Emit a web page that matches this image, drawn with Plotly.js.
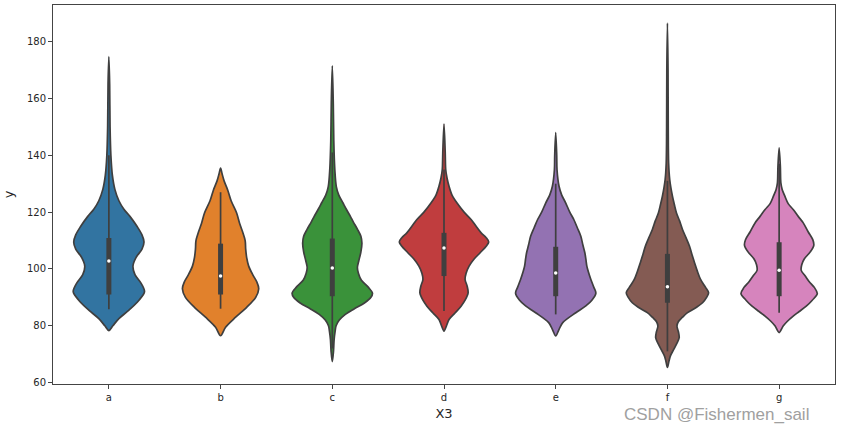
<!DOCTYPE html>
<html>
<head>
<meta charset="utf-8">
<script src="https://cdn.plot.ly/plotly-3.0.1.min.js"></script>
<style>html,body{margin:0;padding:0;background:#fff;}#chart{width:843px;height:431px;}</style>
</head>
<body>
<div id="chart"></div>
<script>
// ---- data ----
const categories = ['a', 'b', 'c', 'd', 'e', 'f', 'g'];

// density profiles (y level -> relative density, arbitrary units)
const yA = [78.3, 80, 82.5, 85.5, 89, 92, 95, 98, 101, 104, 107, 109.5, 112, 115, 118.5, 121, 124, 128, 133, 140, 150, 165, 174.7];
const dA = [0, 4, 10, 20, 30, 35.5, 32, 26, 24, 27, 33, 35, 33, 28, 21, 15, 10, 6, 3.5, 2, 1.2, 0.8, 0];

const yB = [76.5, 79.5, 83, 86.5, 90, 93, 95.5, 98, 101, 104, 107, 110, 113, 116, 119.7, 124, 127.9, 131, 133.5, 135.5];
const dB = [0, 5, 15, 26, 35, 38, 36, 32, 28, 26, 25, 24.5, 22, 19, 16, 10.5, 7, 3.5, 1.5, 0];

const yC = [67.4, 71, 75, 78, 80, 82, 84, 86, 88, 90, 91.5, 93.5, 96, 98.5, 100.5, 103, 106, 109, 111.5, 114, 116.5, 118.5, 121, 123.2, 126, 129, 135, 145, 158, 171.5];
const dC = [0, 1.2, 1.8, 2.8, 3.8, 7, 13, 22, 32, 38.5, 40, 36, 29, 26, 25, 26.5, 28.5, 29.5, 28.5, 25, 21, 18, 14, 10.7, 6.5, 4, 2.5, 1.5, 1, 0];

const yD = [78.1, 80, 82.2, 84.5, 86.9, 89, 91.6, 94, 96.3, 98.5, 101, 103.5, 105.7, 108, 109.5, 111, 112.7, 115, 117.4, 120, 123.2, 126, 129.1, 132, 135, 141, 151];
const dD = [0, 2.5, 5, 11, 17, 21, 24, 23, 21, 22, 25, 30, 36, 42, 44.5, 42, 37, 32, 27, 20, 13, 8, 5, 3, 1.7, 1.2, 0];

const yE = [76.4, 78.5, 81.1, 84.6, 87, 89, 91.5, 93.5, 96.3, 99, 101, 103.5, 105.7, 108.5, 111.5, 114.5, 117.4, 120, 123.2, 126, 129.1, 134.9, 140, 148];
const dE = [0, 3, 7, 20, 30, 36, 40, 38, 35, 32.5, 31, 30, 29, 27, 25, 21.5, 18, 14, 10, 6, 3.3, 1.3, 1, 0];

const yF = [65.3, 67.5, 69.4, 71.5, 73.5, 75.8, 77.8, 79.9, 81.5, 83, 84.6, 86.5, 88.1, 90, 91.6, 93.5, 96.3, 99, 102.2, 105, 108, 111, 113.9, 117, 119.7, 122.5, 125.6, 131.4, 137.3, 150, 170, 186.5];
const dF = [0, 1.5, 3, 6, 9, 11.7, 11, 9.5, 11, 15, 20, 29, 35, 39, 41, 38, 33, 30, 27, 24.5, 22, 18.5, 15, 12, 9, 7, 5, 2.3, 1.2, 0.8, 0.6, 0];

const yG = [77.6, 79.9, 81.5, 83.4, 85, 86.9, 89, 91.3, 93.5, 95.5, 97.5, 99.5, 101.5, 103.5, 106, 108.3, 110.3, 113, 116.2, 118.5, 120.9, 123, 125.6, 128, 130.3, 136, 142.6];
const dG = [0, 4, 8, 14, 20, 27, 33, 38, 35, 30, 26, 22, 22.5, 25, 31, 34.5, 33.5, 29, 24, 19, 14, 9, 5.7, 3, 1.7, 1.2, 0];

// inner box statistics
const q1 = [91.0, 91.0, 90.4, 97.5, 90.4, 88.1, 90.4];
const medians = [102.8, 97.5, 100.3, 107.4, 98.6, 93.7, 99.5];
const q3 = [110.9, 108.9, 110.7, 112.7, 107.8, 105.3, 109.4];
const whiskerLow = [85.8, 86.0, 72, 85.2, 84.0, 71, 84.6];
const whiskerHigh = [140, 127, 141, 135, 130, 131, 137];

const yTicks = [60, 80, 100, 120, 140, 160, 180];

// ---- styles ----
const fillColors = ['#3274a1', '#e1812c', '#3a923a', '#c03d3e', '#9372b2', '#845b53', '#d684bd'];
const gray = '#3f3f3f';
const profiles = [[yA, dA], [yB, dB], [yC, dC], [yD, dD], [yE, dE], [yF, dF], [yG, dG]];

// seaborn-like scaling: largest density across all violins -> half width 0.4
let maxD = 0;
profiles.forEach(p => p[1].forEach(v => { if (v > maxD) maxD = v; }));
const halfWidth = 0.4;

const traces = [];
profiles.forEach((p, i) => {
  const ys = p[0], ds = p[1];
  const xs = [], yy = [];
  for (let k = 0; k < ys.length; k++) { xs.push(i + ds[k] / maxD * halfWidth); yy.push(ys[k]); }
  for (let k = ys.length - 2; k >= 0; k--) { xs.push(i - ds[k] / maxD * halfWidth); yy.push(ys[k]); }
  traces.push({
    type: 'scatter', mode: 'lines', x: xs, y: yy, fill: 'toself',
    fillcolor: fillColors[i], line: {color: gray, width: 1.7, shape: 'spline', smoothing: 0.9},
    hoverinfo: 'skip', showlegend: false
  });
});

// whiskers
const wx = [], wy = [], bx = [], by = [];
categories.forEach((c, i) => {
  wx.push(i, i, null); wy.push(whiskerLow[i], whiskerHigh[i], null);
  bx.push(i, i, null); by.push(q1[i], q3[i], null);
});
traces.push({type: 'scatter', mode: 'lines', x: wx, y: wy, line: {color: gray, width: 1.7}, hoverinfo: 'skip', showlegend: false});
traces.push({type: 'scatter', mode: 'lines', x: bx, y: by, line: {color: gray, width: 5}, hoverinfo: 'skip', showlegend: false});
traces.push({type: 'scatter', mode: 'markers', x: categories.map((c, i) => i), y: medians,
  marker: {color: '#ffffff', size: 3.5}, hoverinfo: 'skip', showlegend: false});

const axisStyle = {
  showline: true, mirror: true, linecolor: '#444', linewidth: 1,
  ticks: 'outside', ticklen: 4, tickwidth: 1, tickcolor: '#444',
  showgrid: false, zeroline: false,
  tickfont: {family: 'DejaVu Sans', size: 10, color: '#262626'}
};

const layout = {
  width: 843, height: 431,
  margin: {l: 53, r: 8, t: 5, b: 47},
  paper_bgcolor: '#ffffff', plot_bgcolor: '#ffffff',
  showlegend: false,
  font: {family: 'DejaVu Sans', color: '#262626'},
  xaxis: Object.assign({}, axisStyle, {
    range: [-0.5, 6.5], tickmode: 'array',
    tickvals: categories.map((c, i) => i), ticktext: categories,
    title: {text: 'X3', font: {size: 13, family: 'DejaVu Sans', color: '#262626'}, standoff: 6}
  }),
  yaxis: Object.assign({}, axisStyle, {
    range: [59.5, 192.9], tickmode: 'array', tickvals: yTicks, ticktext: yTicks.map(String),
    title: {text: 'y', font: {size: 13, family: 'DejaVu Sans', color: '#262626'}, standoff: 10}
  }),
  annotations: [{
    text: 'CSDN @Fishermen_sail', xref: 'paper', yref: 'paper',
    x: 0.969, y: -0.08, xanchor: 'right', yanchor: 'middle', showarrow: false,
    font: {family: 'Liberation Sans', size: 17, color: '#a0a0a0'}
  }]
};

Plotly.newPlot('chart', traces, layout, {displayModeBar: false, staticPlot: true});
</script>
</body>
</html>
